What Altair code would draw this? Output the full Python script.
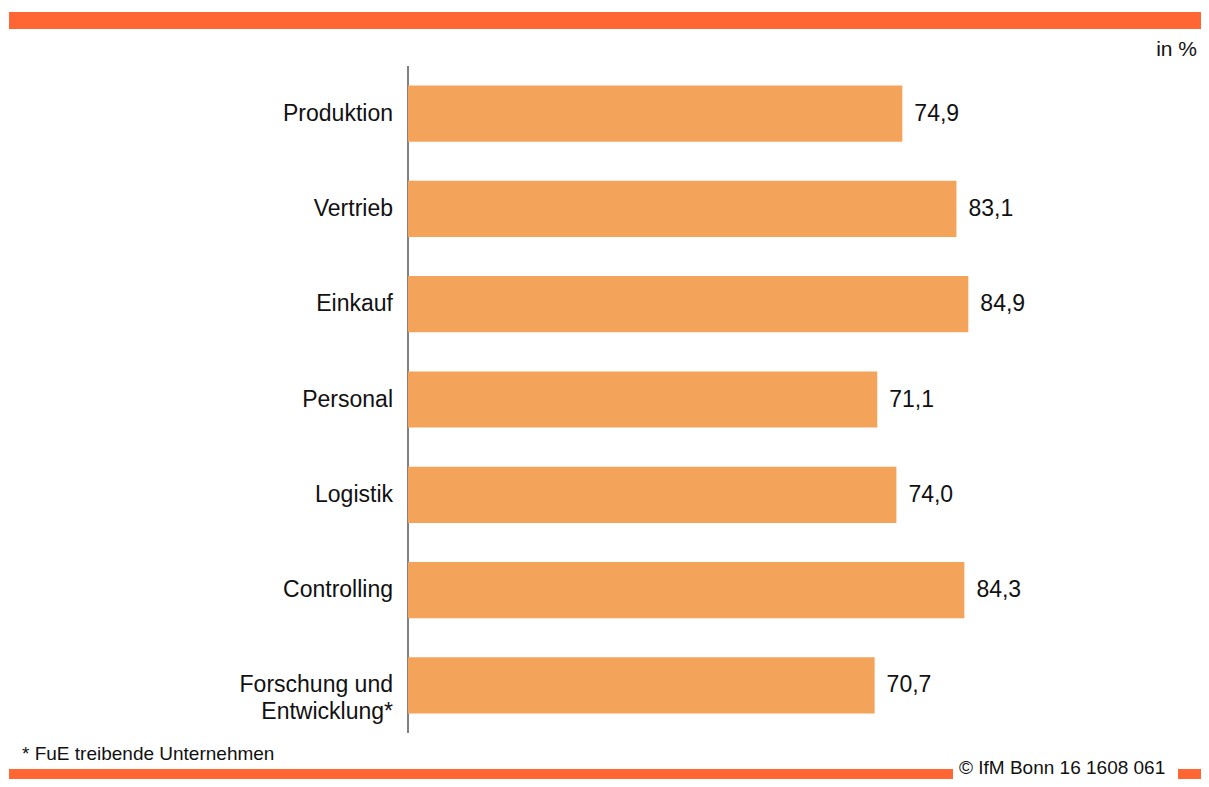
import altair as alt
import pandas as pd

categories = ["Produktion", "Vertrieb", "Einkauf", "Personal", "Logistik",
              "Controlling", "Forschung und\nEntwicklung*"]
values = [74.9, 83.1, 84.9, 71.1, 74.0, 84.3, 70.7]
value_labels = ["74,9", "83,1", "84,9", "71,1", "74,0", "84,3", "70,7"]

unit_text = "in %"
footnote = "* FuE treibende Unternehmen"
source = "© IfM Bonn 16 1608 061"

FONT = "Liberation Sans"
BAR = "#F4A35A"
ORANGE = "#FF6633"

W, H = 1193, 771

df = pd.DataFrame({"cat": categories, "value": values, "label": value_labels})

xs = alt.Scale(domain=[0, 120], range=[400, 1192])
ys = alt.Scale(range=[58, 725], paddingInner=0.41, paddingOuter=0.205)
Y = alt.Y("cat:N", sort=categories, scale=ys, axis=None)

base = alt.Chart(df)

bars = base.mark_bar(color=BAR).encode(
    x=alt.X("value:Q", scale=xs, axis=None),
    y=Y,
)

vals = base.mark_text(align="left", baseline="middle", dx=12, fontSize=23,
                      font=FONT, color="#111111").encode(
    x=alt.X("value:Q", scale=xs, axis=None),
    y=Y,
    text="label:N",
)

cats = base.mark_text(align="right", baseline="middle", fontSize=23, font=FONT,
                      color="#111111", lineBreak="\n", lineHeight=27).encode(
    x=alt.value(385),
    y=Y,
    text="cat:N",
)

one = alt.Data(values=[{"a": 1}])

axis_line = alt.Chart(one).mark_rule(color="#808080", strokeWidth=2).encode(
    x=alt.value(400), y=alt.value(58), y2=alt.value(725)
)

top_bar = alt.Chart(one).mark_rect(color=ORANGE).encode(
    x=alt.value(1), x2=alt.value(W), y=alt.value(4), y2=alt.value(21)
)

bottom_bar1 = alt.Chart(one).mark_rect(color=ORANGE).encode(
    x=alt.value(1), x2=alt.value(945), y=alt.value(761), y2=alt.value(H)
)
bottom_bar2 = alt.Chart(one).mark_rect(color=ORANGE).encode(
    x=alt.value(1170), x2=alt.value(W), y=alt.value(761), y2=alt.value(H)
)

unit = alt.Chart(one).mark_text(align="right", baseline="middle", fontSize=21,
                                font=FONT, color="#111111").encode(
    x=alt.value(1189), y=alt.value(42), text=alt.value(unit_text)
)

foot = alt.Chart(one).mark_text(align="left", baseline="middle", fontSize=19,
                                font=FONT, color="#111111").encode(
    x=alt.value(14), y=alt.value(746), text=alt.value(footnote)
)

src = alt.Chart(one).mark_text(align="left", baseline="alphabetic", fontSize=19,
                               font=FONT, color="#111111").encode(
    x=alt.value(951), y=alt.value(766), text=alt.value(source)
)

chart = alt.layer(
    top_bar, bottom_bar1, bottom_bar2, axis_line, bars, vals, cats, unit, foot, src
).properties(
    width=W, height=H,
    autosize=alt.AutoSizeParams(type="none"),
    padding=0,
).configure_view(stroke=None)

chart.save("out.html", embed_options={"renderer": "svg", "actions": False})
